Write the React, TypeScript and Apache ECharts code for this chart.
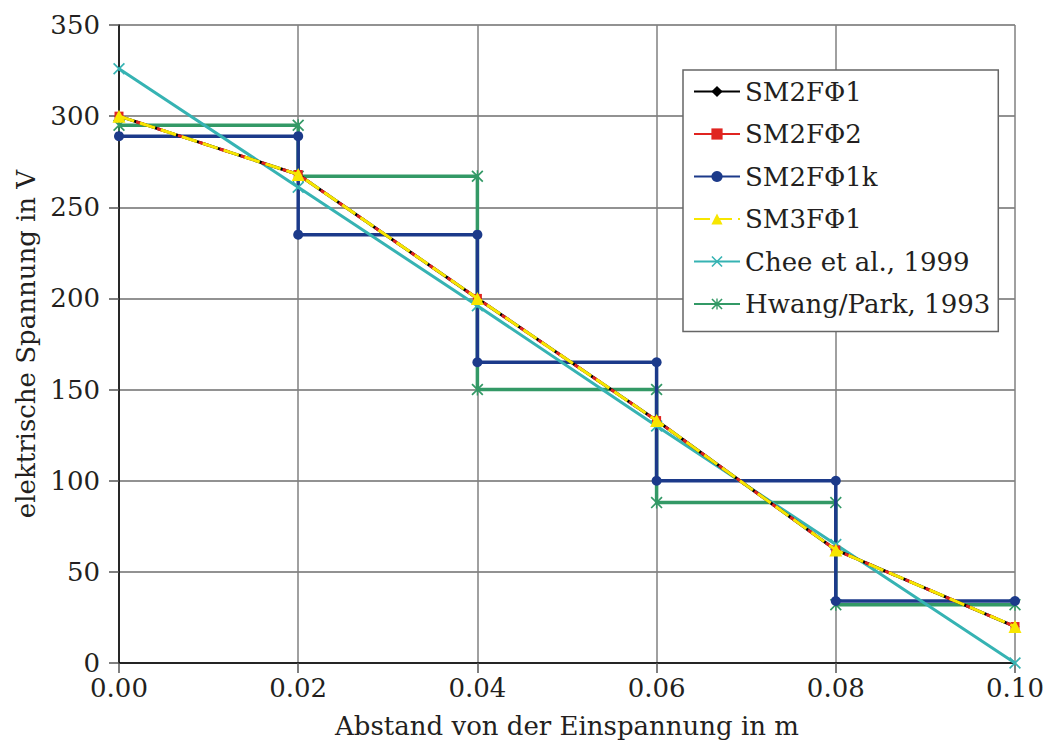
import React, { useEffect, useRef } from "react";
import * as echarts from "echarts";

const xPoints = [0, 0.02, 0.04, 0.06, 0.08, 0.1];
const sm2fPhi1 = [300, 268, 200, 133, 62, 20];
const sm2fPhi2 = [300, 268, 200, 133, 62, 20];
const sm3fPhi1 = [300, 268, 200, 133, 62, 20];
const chee1999 = [326, 261, 196, 130, 65, 0];

const stepX = [0, 0.02, 0.02, 0.04, 0.04, 0.06, 0.06, 0.08, 0.08, 0.1];
const sm2fPhi1k = [289, 289, 235, 235, 165, 165, 100, 100, 34, 34];
const hwangPark1993 = [295, 295, 267, 267, 150, 150, 88, 88, 32, 32];

const seriesNames = ["SM2F\u03A61", "SM2F\u03A62", "SM2F\u03A61k", "SM3F\u03A61", "Chee et al., 1999", "Hwang/Park, 1993"];

const xLabel = "Abstand von der Einspannung in m";
const yLabel = "elektrische Spannung in V";

const FONT = "DejaVu Serif";
const FS = 26;

const crossPath = "path://M0,1 L1,0 L5,4 L9,0 L10,1 L6,5 L10,9 L9,10 L5,6 L1,10 L0,9 L4,5 Z";
const asteriskPath = "path://M0,1 L1,0 L5,4 L9,0 L10,1 L6,5 L10,9 L9,10 L5,6 L1,10 L0,9 L4,5 Z M4.4,0 L5.6,0 L5.6,10 L4.4,10 Z";

function pairs(xs: number[], ys: number[]) {
  return xs.map((x, i) => [x, ys[i]]);
}

export default function App() {
  const ref = useRef<HTMLDivElement>(null);
  useEffect(() => {
    if (!ref.current) return;
    const chart = echarts.init(ref.current, undefined, { renderer: "svg" });
    chart.setOption({
      animation: false,
      backgroundColor: "#fff",
      textStyle: { fontFamily: FONT },
      grid: { left: 119, right: 30, top: 25, bottom: 79, containLabel: false, outerBoundsMode: "none" },
      legend: {
        orient: "vertical",
        left: 683,
        top: 70,
        data: [
          { name: seriesNames[0] },
          { name: seriesNames[1], lineStyle: { type: "solid" } },
          { name: seriesNames[2] },
          { name: seriesNames[3] },
          { name: seriesNames[4] },
          { name: seriesNames[5] },
        ],
        backgroundColor: "#fff",
        borderColor: "#666",
        borderWidth: 1.5,
        padding: [6, 8, 12, 10],
        itemWidth: 46,
        itemHeight: 14,
        itemGap: 11.5,
        textStyle: { fontFamily: FONT, fontSize: FS, color: "#231f20", lineHeight: 31 },
      },
      xAxis: {
        type: "value",
        min: 0,
        max: 0.1,
        interval: 0.02,
        name: xLabel,
        nameLocation: "middle",
        nameGap: 50,
        nameTextStyle: { fontFamily: FONT, fontSize: FS, color: "#231f20" },
        axisLine: { show: true, onZero: false, lineStyle: { color: "#000", width: 1.5 } },
        axisTick: { show: true, length: 10, lineStyle: { color: "#555", width: 1.5 } },
        axisLabel: {
          fontFamily: FONT,
          fontSize: FS,
          color: "#231f20",
          margin: 12,
          formatter: (v: number) => v.toFixed(2),
        },
        splitLine: { show: true, lineStyle: { color: "#808080", width: 1.5 } },
      },
      yAxis: {
        type: "value",
        min: 0,
        max: 350,
        interval: 50,
        name: yLabel,
        nameLocation: "middle",
        nameGap: 71,
        nameTextStyle: { fontFamily: FONT, fontSize: FS, color: "#231f20" },
        axisLine: { show: true, lineStyle: { color: "#000", width: 1.5 } },
        axisTick: { show: true, length: 10, lineStyle: { color: "#555", width: 1.5 } },
        axisLabel: { fontFamily: FONT, fontSize: FS, color: "#231f20", margin: 19 },
        splitLine: { show: true, lineStyle: { color: "#6e6e6e", width: 1.5 } },
      },
      series: [
        {
          name: seriesNames[0],
          type: "line",
          z: 4,
          data: pairs(xPoints, sm2fPhi1),
          symbol: "diamond",
          symbolSize: 9,
          itemStyle: { color: "#000" },
          lineStyle: { color: "#000", width: 3 },
        },
        {
          name: seriesNames[1],
          type: "line",
          z: 5,
          data: pairs(xPoints, sm2fPhi2),
          symbol: "rect",
          symbolSize: 9,
          itemStyle: { color: "#e02420" },
          lineStyle: { color: "#e02420", width: 3, type: [10, 12], dashOffset: 4 },
        },
        {
          name: seriesNames[2],
          type: "line",
          z: 3,
          data: pairs(stepX, sm2fPhi1k),
          symbol: "circle",
          symbolSize: 10,
          itemStyle: { color: "#1c3a8a" },
          lineStyle: { color: "#1c3a8a", width: 3.5 },
        },
        {
          name: seriesNames[3],
          type: "line",
          z: 6,
          data: pairs(xPoints, sm3fPhi1),
          symbol: "triangle",
          symbolSize: 13,
          itemStyle: { color: "#f7e600" },
          lineStyle: { color: "#f7e600", width: 3, type: [16, 6] },
        },
        {
          name: seriesNames[4],
          type: "line",
          z: 3.5,
          data: pairs(xPoints, chee1999),
          symbol: crossPath,
          symbolSize: 12,
          itemStyle: { color: "#36b3b3" },
          lineStyle: { color: "#36b3b3", width: 3 },
        },
        {
          name: seriesNames[5],
          type: "line",
          z: 2,
          data: pairs(stepX, hwangPark1993),
          symbol: asteriskPath,
          symbolSize: 12,
          itemStyle: { color: "#339966" },
          lineStyle: { color: "#339966", width: 3.5 },
        },
      ],
    });
    return () => chart.dispose();
  }, []);
  return <div ref={ref} style={{ width: 1045, height: 742, position: "absolute", left: 0, top: 0 }} />;
}
